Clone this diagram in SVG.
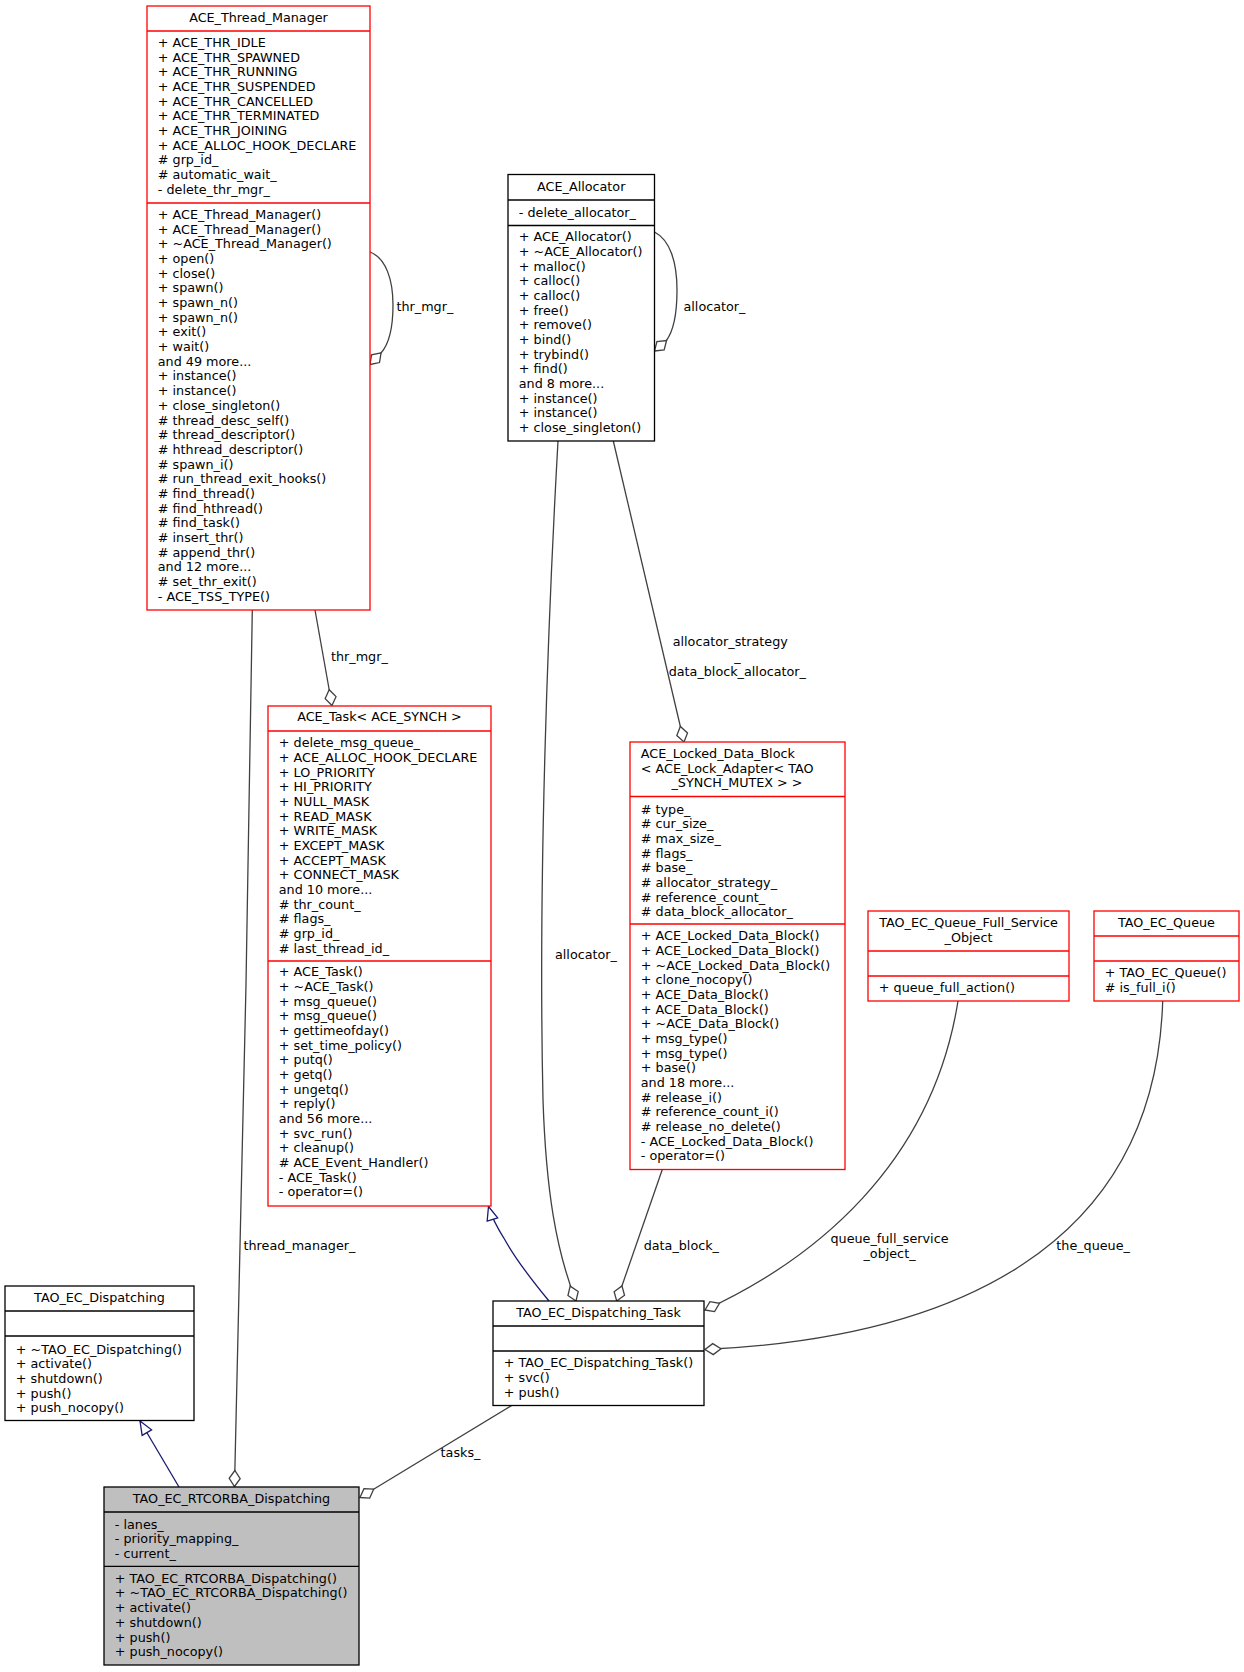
<svg xmlns="http://www.w3.org/2000/svg" width="1244" height="1672" viewBox="0 0 1244 1672">
<style>
text { font-family: "DejaVu Sans", "Liberation Sans", sans-serif; font-size: 12.75px; fill: #000; }
.c { text-anchor: middle; }
.box { fill: #fff; stroke-width: 1.3; }
.red { stroke: #ff0000; }
.blk { stroke: #000; }
.gray { fill: #bfbfbf; }
.sep { stroke-width: 1.3; }
.e { fill: none; stroke: #404040; stroke-width: 1.3; marker-end: url(#dia); }
.inh { fill: none; stroke: #191970; stroke-width: 1.3; marker-end: url(#tri); }
</style>
<defs>
<marker id="dia" markerUnits="userSpaceOnUse" orient="auto" viewBox="-18 -7 20 14" markerWidth="20" markerHeight="14" refX="0" refY="0">
<path d="M0,0 L-8,-5.5 L-16,0 L-8,5.5 Z" fill="#fff" stroke="#404040" stroke-width="1.3"/>
</marker>
<marker id="tri" markerUnits="userSpaceOnUse" orient="auto" viewBox="-16 -8 18 16" markerWidth="18" markerHeight="16" refX="0" refY="0">
<path d="M0,0 L-13.5,-5.5 L-13.5,5.5 Z" fill="#fff" stroke="#191970" stroke-width="1.3"/>
</marker>
</defs>
<rect width="1244" height="1672" fill="#fff"/>

<g id="connectors">
<path class="e" d="M370,252 C386,258 393,280 393,305 C393,330 389,344 381,353 L370,364.5"/>
<text x="396.5" y="311">thr_mgr_</text>
<path class="e" d="M315,610 L332,705.5"/>
<text x="331" y="661">thr_mgr_</text>
<path class="e" d="M654.5,232 C670,240 677,262 677,290 C677,318 673,332 666,341 L654.5,351"/>
<text x="683.5" y="311">allocator_</text>
<path class="e" d="M252.3,610 C249,900 241,1200 234.5,1486.5"/>
<text x="243.5" y="1250">thread_manager_</text>
<path class="inh" d="M179,1487 L140,1421"/>
<path class="inh" d="M549,1301 C530,1278 515,1258 505,1240 C498,1229 492,1218 488.5,1206.5"/>
<path class="e" d="M558,441 C548,620 538,880 543,1100 C546,1190 556,1250 576,1301"/>
<text x="555" y="958.5">allocator_</text>
<path class="e" d="M613.3,441 L684,742"/>
<text x="672.7" y="646.2">allocator_strategy</text>
<text class="c" x="737.5" y="660.9">_</text>
<text x="668.7" y="675.6">data_block_allocator_</text>
<path class="e" d="M662.3,1169.5 L616.7,1301"/>
<text x="643.7" y="1250">data_block_</text>
<path class="e" d="M958,1001 C932,1165 814,1259.6 705,1310"/>
<text class="c" x="889.5" y="1242.8">queue_full_service</text>
<text class="c" x="889.5" y="1257.5">_object_</text>
<path class="e" d="M1162.7,1001 C1155,1250 950,1338 705,1349.5"/>
<text x="1056.3" y="1250">the_queue_</text>
<path class="e" d="M511.7,1405.4 L360,1497.5"/>
<text x="440.6" y="1457">tasks_</text>
</g>

<g id="ACE_Thread_Manager">
<rect class="box red" x="147" y="6" width="223" height="604"/>
<line class="sep red" x1="147" y1="31" x2="370" y2="31"/>
<line class="sep red" x1="147" y1="203" x2="370" y2="203"/>
<text class="c" x="258.5" y="22">ACE_Thread_Manager</text>
<text x="157.8" y="47">
<tspan x="157.8" y="47">+ ACE_THR_IDLE</tspan>
<tspan x="157.8" dy="14.68">+ ACE_THR_SPAWNED</tspan>
<tspan x="157.8" dy="14.68">+ ACE_THR_RUNNING</tspan>
<tspan x="157.8" dy="14.68">+ ACE_THR_SUSPENDED</tspan>
<tspan x="157.8" dy="14.68">+ ACE_THR_CANCELLED</tspan>
<tspan x="157.8" dy="14.68">+ ACE_THR_TERMINATED</tspan>
<tspan x="157.8" dy="14.68">+ ACE_THR_JOINING</tspan>
<tspan x="157.8" dy="14.68">+ ACE_ALLOC_HOOK_DECLARE</tspan>
<tspan x="157.8" dy="14.68"># grp_id_</tspan>
<tspan x="157.8" dy="14.68"># automatic_wait_</tspan>
<tspan x="157.8" dy="14.68">- delete_thr_mgr_</tspan>
</text>
<text x="157.8" y="219">
<tspan x="157.8" y="219">+ ACE_Thread_Manager()</tspan>
<tspan x="157.8" dy="14.68">+ ACE_Thread_Manager()</tspan>
<tspan x="157.8" dy="14.68">+ ~ACE_Thread_Manager()</tspan>
<tspan x="157.8" dy="14.68">+ open()</tspan>
<tspan x="157.8" dy="14.68">+ close()</tspan>
<tspan x="157.8" dy="14.68">+ spawn()</tspan>
<tspan x="157.8" dy="14.68">+ spawn_n()</tspan>
<tspan x="157.8" dy="14.68">+ spawn_n()</tspan>
<tspan x="157.8" dy="14.68">+ exit()</tspan>
<tspan x="157.8" dy="14.68">+ wait()</tspan>
<tspan x="157.8" dy="14.68">and 49 more...</tspan>
<tspan x="157.8" dy="14.68">+ instance()</tspan>
<tspan x="157.8" dy="14.68">+ instance()</tspan>
<tspan x="157.8" dy="14.68">+ close_singleton()</tspan>
<tspan x="157.8" dy="14.68"># thread_desc_self()</tspan>
<tspan x="157.8" dy="14.68"># thread_descriptor()</tspan>
<tspan x="157.8" dy="14.68"># hthread_descriptor()</tspan>
<tspan x="157.8" dy="14.68"># spawn_i()</tspan>
<tspan x="157.8" dy="14.68"># run_thread_exit_hooks()</tspan>
<tspan x="157.8" dy="14.68"># find_thread()</tspan>
<tspan x="157.8" dy="14.68"># find_hthread()</tspan>
<tspan x="157.8" dy="14.68"># find_task()</tspan>
<tspan x="157.8" dy="14.68"># insert_thr()</tspan>
<tspan x="157.8" dy="14.68"># append_thr()</tspan>
<tspan x="157.8" dy="14.68">and 12 more...</tspan>
<tspan x="157.8" dy="14.68"># set_thr_exit()</tspan>
<tspan x="157.8" dy="14.68">- ACE_TSS_TYPE()</tspan>
</text>
</g>

<g id="ACE_Allocator">
<rect class="box blk" x="508" y="174.5" width="146.5" height="266.5"/>
<line class="sep blk" x1="508" y1="200" x2="654.5" y2="200"/>
<line class="sep blk" x1="508" y1="225.5" x2="654.5" y2="225.5"/>
<text class="c" x="581.25" y="191">ACE_Allocator</text>
<text x="518.8" y="216.5">- delete_allocator_</text>
<text x="518.8" y="241.3">
<tspan x="518.8" y="241.3">+ ACE_Allocator()</tspan>
<tspan x="518.8" dy="14.68">+ ~ACE_Allocator()</tspan>
<tspan x="518.8" dy="14.68">+ malloc()</tspan>
<tspan x="518.8" dy="14.68">+ calloc()</tspan>
<tspan x="518.8" dy="14.68">+ calloc()</tspan>
<tspan x="518.8" dy="14.68">+ free()</tspan>
<tspan x="518.8" dy="14.68">+ remove()</tspan>
<tspan x="518.8" dy="14.68">+ bind()</tspan>
<tspan x="518.8" dy="14.68">+ trybind()</tspan>
<tspan x="518.8" dy="14.68">+ find()</tspan>
<tspan x="518.8" dy="14.68">and 8 more...</tspan>
<tspan x="518.8" dy="14.68">+ instance()</tspan>
<tspan x="518.8" dy="14.68">+ instance()</tspan>
<tspan x="518.8" dy="14.68">+ close_singleton()</tspan>
</text>
</g>

<g id="ACE_Task">
<rect class="box red" x="268" y="706" width="223" height="500"/>
<line class="sep red" x1="268" y1="731" x2="491" y2="731"/>
<line class="sep red" x1="268" y1="961" x2="491" y2="961"/>
<text class="c" x="379.5" y="721.2">ACE_Task&lt; ACE_SYNCH &gt;</text>
<text x="278.8" y="747.2">
<tspan x="278.8" y="747.2">+ delete_msg_queue_</tspan>
<tspan x="278.8" dy="14.68">+ ACE_ALLOC_HOOK_DECLARE</tspan>
<tspan x="278.8" dy="14.68">+ LO_PRIORITY</tspan>
<tspan x="278.8" dy="14.68">+ HI_PRIORITY</tspan>
<tspan x="278.8" dy="14.68">+ NULL_MASK</tspan>
<tspan x="278.8" dy="14.68">+ READ_MASK</tspan>
<tspan x="278.8" dy="14.68">+ WRITE_MASK</tspan>
<tspan x="278.8" dy="14.68">+ EXCEPT_MASK</tspan>
<tspan x="278.8" dy="14.68">+ ACCEPT_MASK</tspan>
<tspan x="278.8" dy="14.68">+ CONNECT_MASK</tspan>
<tspan x="278.8" dy="14.68">and 10 more...</tspan>
<tspan x="278.8" dy="14.68"># thr_count_</tspan>
<tspan x="278.8" dy="14.68"># flags_</tspan>
<tspan x="278.8" dy="14.68"># grp_id_</tspan>
<tspan x="278.8" dy="14.68"># last_thread_id_</tspan>
</text>
<text x="278.8" y="976.2">
<tspan x="278.8" y="976.2">+ ACE_Task()</tspan>
<tspan x="278.8" dy="14.68">+ ~ACE_Task()</tspan>
<tspan x="278.8" dy="14.68">+ msg_queue()</tspan>
<tspan x="278.8" dy="14.68">+ msg_queue()</tspan>
<tspan x="278.8" dy="14.68">+ gettimeofday()</tspan>
<tspan x="278.8" dy="14.68">+ set_time_policy()</tspan>
<tspan x="278.8" dy="14.68">+ putq()</tspan>
<tspan x="278.8" dy="14.68">+ getq()</tspan>
<tspan x="278.8" dy="14.68">+ ungetq()</tspan>
<tspan x="278.8" dy="14.68">+ reply()</tspan>
<tspan x="278.8" dy="14.68">and 56 more...</tspan>
<tspan x="278.8" dy="14.68">+ svc_run()</tspan>
<tspan x="278.8" dy="14.68">+ cleanup()</tspan>
<tspan x="278.8" dy="14.68"># ACE_Event_Handler()</tspan>
<tspan x="278.8" dy="14.68">- ACE_Task()</tspan>
<tspan x="278.8" dy="14.68">- operator=()</tspan>
</text>
</g>

<g id="ACE_Locked_Data_Block">
<rect class="box red" x="630" y="742" width="215" height="427.5"/>
<line class="sep red" x1="630" y1="796.5" x2="845" y2="796.5"/>
<line class="sep red" x1="630" y1="924" x2="845" y2="924"/>
<text x="640.8" y="757.8">ACE_Locked_Data_Block</text>
<text x="640.8" y="772.5">&lt; ACE_Lock_Adapter&lt; TAO</text>
<text class="c" x="737" y="787.2">_SYNCH_MUTEX &gt; &gt;</text>
<text x="640.8" y="813.5">
<tspan x="640.8" y="813.5"># type_</tspan>
<tspan x="640.8" dy="14.68"># cur_size_</tspan>
<tspan x="640.8" dy="14.68"># max_size_</tspan>
<tspan x="640.8" dy="14.68"># flags_</tspan>
<tspan x="640.8" dy="14.68"># base_</tspan>
<tspan x="640.8" dy="14.68"># allocator_strategy_</tspan>
<tspan x="640.8" dy="14.68"># reference_count_</tspan>
<tspan x="640.8" dy="14.68"># data_block_allocator_</tspan>
</text>
<text x="640.8" y="940.2">
<tspan x="640.8" y="940.2">+ ACE_Locked_Data_Block()</tspan>
<tspan x="640.8" dy="14.68">+ ACE_Locked_Data_Block()</tspan>
<tspan x="640.8" dy="14.68">+ ~ACE_Locked_Data_Block()</tspan>
<tspan x="640.8" dy="14.68">+ clone_nocopy()</tspan>
<tspan x="640.8" dy="14.68">+ ACE_Data_Block()</tspan>
<tspan x="640.8" dy="14.68">+ ACE_Data_Block()</tspan>
<tspan x="640.8" dy="14.68">+ ~ACE_Data_Block()</tspan>
<tspan x="640.8" dy="14.68">+ msg_type()</tspan>
<tspan x="640.8" dy="14.68">+ msg_type()</tspan>
<tspan x="640.8" dy="14.68">+ base()</tspan>
<tspan x="640.8" dy="14.68">and 18 more...</tspan>
<tspan x="640.8" dy="14.68"># release_i()</tspan>
<tspan x="640.8" dy="14.68"># reference_count_i()</tspan>
<tspan x="640.8" dy="14.68"># release_no_delete()</tspan>
<tspan x="640.8" dy="14.68">- ACE_Locked_Data_Block()</tspan>
<tspan x="640.8" dy="14.68">- operator=()</tspan>
</text>
</g>

<g id="TAO_EC_Queue_Full_Service_Object">
<rect class="box red" x="868" y="911" width="201" height="90"/>
<line class="sep red" x1="868" y1="951" x2="1069" y2="951"/>
<line class="sep red" x1="868" y1="976" x2="1069" y2="976"/>
<text class="c" x="968.5" y="927">TAO_EC_Queue_Full_Service</text>
<text class="c" x="968.5" y="941.7">_Object</text>
<text x="878.8" y="992">+ queue_full_action()</text>
</g>

<g id="TAO_EC_Queue">
<rect class="box red" x="1094" y="911" width="145" height="90"/>
<line class="sep red" x1="1094" y1="936" x2="1239" y2="936"/>
<line class="sep red" x1="1094" y1="961" x2="1239" y2="961"/>
<text class="c" x="1166.5" y="927">TAO_EC_Queue</text>
<text x="1104.8" y="977">+ TAO_EC_Queue()</text>
<text x="1104.8" y="991.7"># is_full_i()</text>
</g>

<g id="TAO_EC_Dispatching">
<rect class="box blk" x="5" y="1286" width="189" height="134.5"/>
<line class="sep blk" x1="5" y1="1311" x2="194" y2="1311"/>
<line class="sep blk" x1="5" y1="1336" x2="194" y2="1336"/>
<text class="c" x="99.5" y="1301.8">TAO_EC_Dispatching</text>
<text x="15.8" y="1353.5">
<tspan x="15.8" y="1353.5">+ ~TAO_EC_Dispatching()</tspan>
<tspan x="15.8" dy="14.68">+ activate()</tspan>
<tspan x="15.8" dy="14.68">+ shutdown()</tspan>
<tspan x="15.8" dy="14.68">+ push()</tspan>
<tspan x="15.8" dy="14.68">+ push_nocopy()</tspan>
</text>
</g>

<g id="TAO_EC_Dispatching_Task">
<rect class="box blk" x="493" y="1301" width="211" height="104.5"/>
<line class="sep blk" x1="493" y1="1326" x2="704" y2="1326"/>
<line class="sep blk" x1="493" y1="1351" x2="704" y2="1351"/>
<text class="c" x="598.5" y="1316.8">TAO_EC_Dispatching_Task</text>
<text x="503.8" y="1367.2">
<tspan x="503.8" y="1367.2">+ TAO_EC_Dispatching_Task()</tspan>
<tspan x="503.8" dy="14.68">+ svc()</tspan>
<tspan x="503.8" dy="14.68">+ push()</tspan>
</text>
</g>

<g id="TAO_EC_RTCORBA_Dispatching">
<rect class="box blk gray" x="104" y="1487" width="255" height="178"/>
<line class="sep blk" x1="104" y1="1512" x2="359" y2="1512"/>
<line class="sep blk" x1="104" y1="1566.4" x2="359" y2="1566.4"/>
<text class="c" x="231.5" y="1502.8">TAO_EC_RTCORBA_Dispatching</text>
<text x="114.8" y="1528.5">
<tspan x="114.8" y="1528.5">- lanes_</tspan>
<tspan x="114.8" dy="14.68">- priority_mapping_</tspan>
<tspan x="114.8" dy="14.68">- current_</tspan>
</text>
<text x="114.8" y="1582.8">
<tspan x="114.8" y="1582.8">+ TAO_EC_RTCORBA_Dispatching()</tspan>
<tspan x="114.8" dy="14.68">+ ~TAO_EC_RTCORBA_Dispatching()</tspan>
<tspan x="114.8" dy="14.68">+ activate()</tspan>
<tspan x="114.8" dy="14.68">+ shutdown()</tspan>
<tspan x="114.8" dy="14.68">+ push()</tspan>
<tspan x="114.8" dy="14.68">+ push_nocopy()</tspan>
</text>
</g>
</svg>
